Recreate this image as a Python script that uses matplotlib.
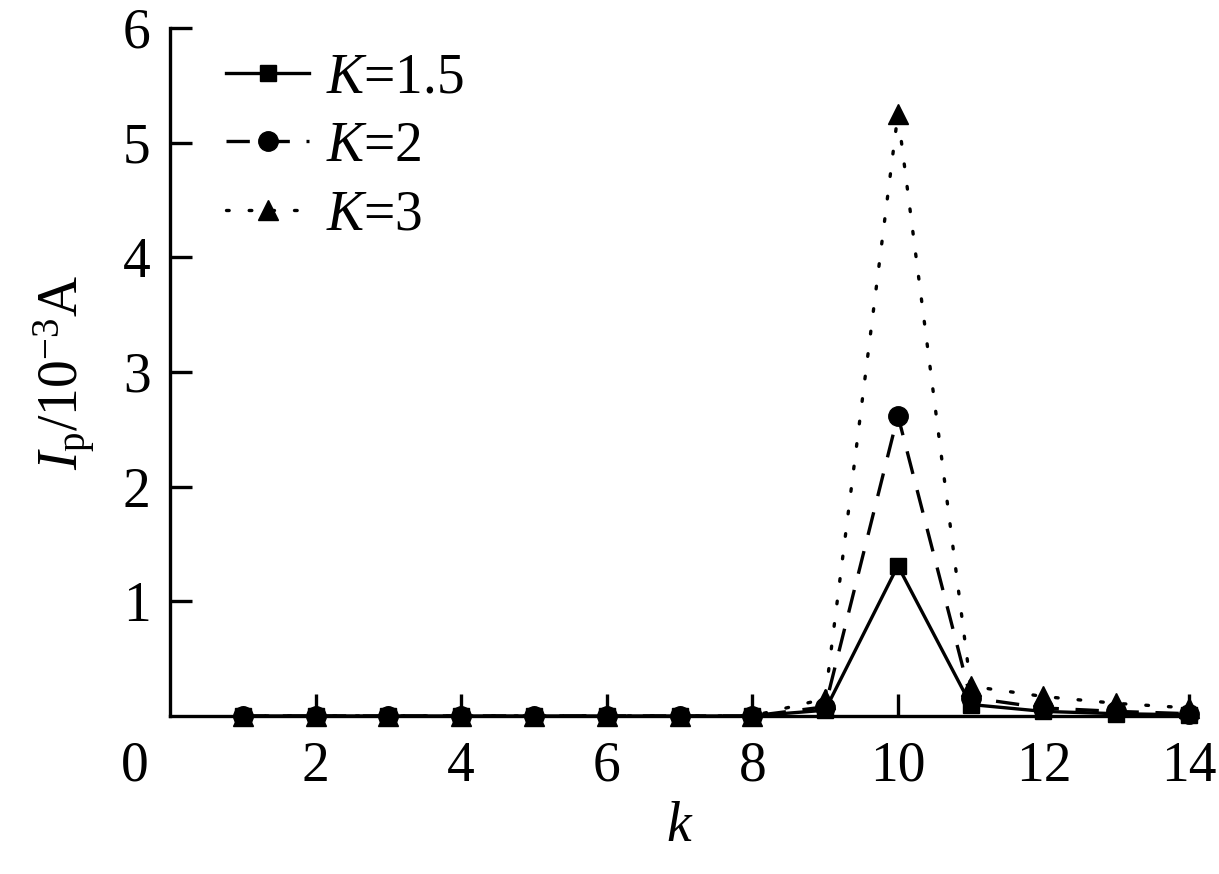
import matplotlib
matplotlib.use("Agg")
import matplotlib.pyplot as plt

k = [1, 2, 3, 4, 5, 6, 7, 8, 9, 10, 11, 12, 13, 14]
ip_k15 = [0, 0, 0, 0, 0, 0, 0, 0, 0.05, 1.31, 0.10, 0.04, 0.02, 0.01]
ip_k2 = [0, 0, 0, 0, 0, 0, 0, 0, 0.08, 2.62, 0.16, 0.07, 0.04, 0.02]
ip_k3 = [0, 0, 0, 0, 0, 0, 0, 0, 0.15, 5.25, 0.26, 0.17, 0.11, 0.07]
labels = [r"$K$=1.5", r"$K$=2", r"$K$=3"]
xticks = [2, 4, 6, 8, 10, 12, 14]
yticks = [1, 2, 3, 4, 5, 6]

plt.rcParams["font.family"] = "Liberation Serif"
plt.rcParams["mathtext.fontset"] = "custom"
plt.rcParams["mathtext.rm"] = "Liberation Serif"
plt.rcParams["mathtext.it"] = "Liberation Serif:italic"

fig = plt.figure(figsize=(12.19, 8.74), dpi=100)
ax = fig.add_axes([0.1395, 0.1808, 0.9754 - 0.1395, 0.968 - 0.1808])

fs = 40
lw = 2.4
l1, = ax.plot(k, ip_k15, color="black", lw=lw, ls="-", marker="s", ms=12, clip_on=False, zorder=3)
l2, = ax.plot(k, ip_k2, color="black", lw=lw, ls=(0, (7, 5)), marker="o", ms=14, clip_on=False, zorder=5)
l3, = ax.plot(k, ip_k3, color="black", lw=lw, ls=(0, (0.8, 6)), dash_capstyle="round",
              marker="^", ms=15, clip_on=False, zorder=4)

ax.set_xlim(0, 14)
ax.set_ylim(0, 6)
ax.set_xticks(xticks)
ax.set_yticks(yticks)
ax.tick_params(direction="in", length=16, width=2.4, labelsize=fs, pad=14)
ax.tick_params(axis="x", pad=18)
for s in ["top", "right"]:
    ax.spines[s].set_visible(False)
for s in ["left", "bottom"]:
    ax.spines[s].set_linewidth(2.4)

ax.text(-0.035, -0.035, "0", transform=ax.transAxes, fontsize=fs, ha="center", va="top")

ax.set_xlabel(r"$k$", fontsize=fs, labelpad=6)
ax.set_ylabel(r"$I_{\rm p}$/10$^{-3}$A", fontsize=fs, labelpad=18)

ax.legend([l1, l2, l3], labels, loc="upper left", frameon=False, fontsize=fs,
          handlelength=1.5, handletextpad=0.3, labelspacing=0.3,
          borderaxespad=0.0, borderpad=0.0, bbox_to_anchor=(0.055, 0.965))

fig.savefig("out.png", dpi=100)
